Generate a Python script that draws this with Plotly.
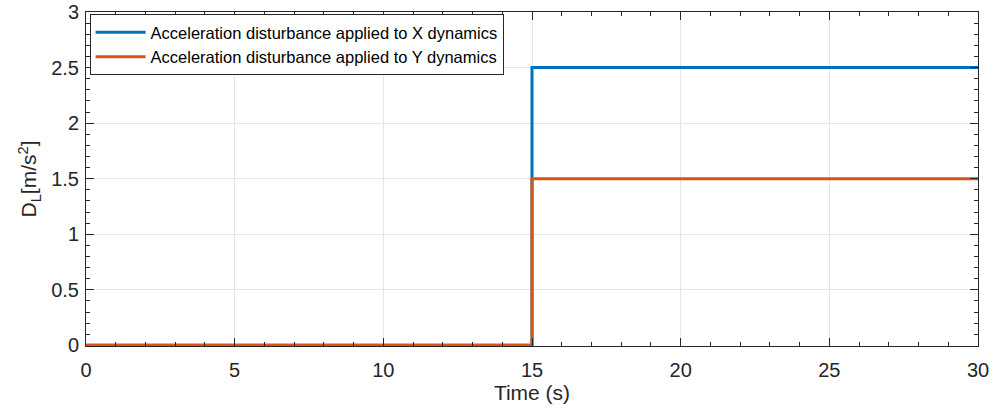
import plotly.graph_objects as go

time_s = [0, 15, 15, 30]
dist_x = [0, 0, 2.5, 2.5]
dist_y = [0, 0, 1.5, 1.5]
names = ["Acceleration disturbance applied to X dynamics",
         "Acceleration disturbance applied to Y dynamics"]
colors = ["#0072BD", "#D95319"]

fig = go.Figure()
for vals, nm, c in zip([dist_x, dist_y], names, colors):
    fig.add_trace(go.Scatter(x=time_s, y=vals, mode="lines", name=nm,
                             line=dict(color=c, width=3)))

axis_common = dict(
    showline=True, linecolor="#262626", linewidth=1, mirror="allticks",
    ticks="inside", ticklen=8, tickcolor="#262626", tickwidth=1,
    showgrid=True, gridcolor="#e6e6e6", gridwidth=1, zeroline=False,
    automargin=False,
    tickfont=dict(family="Liberation Sans, Arial", size=20, color="#262626"),
)

fig.update_layout(
    width=993, height=410,
    margin=dict(l=86, r=15, t=12, b=64),
    paper_bgcolor="white", plot_bgcolor="white",
    font=dict(family="Liberation Sans, Arial", color="#262626"),
    xaxis=dict(range=[0, 30], dtick=5, tick0=0, ticklabelstandoff=6,
               minor=dict(ticks="inside", dtick=1, ticklen=4, tickcolor="#262626", showgrid=False),
               title=dict(text="Time (s)", font=dict(size=21), standoff=0),
               **axis_common),
    yaxis=dict(range=[-0.006, 3], dtick=0.5, tick0=0, ticklabelstandoff=2,
               minor=dict(ticks="inside", dtick=0.1, ticklen=4, tickcolor="#262626", showgrid=False),
               title=dict(text="D<sub>L</sub>[m/s<sup>2</sup>]", font=dict(size=21), standoff=8),
               **axis_common),
    legend=dict(x=0.004, y=0.994, xanchor="left", yanchor="top",
                bgcolor="white", bordercolor="#262626", borderwidth=1,
                itemwidth=50,
                font=dict(size=16.5, color="#000000"), tracegroupgap=0),
    showlegend=True,
)

fig.write_html("out.html", config={"displayModeBar": False},
               post_script="document.body.style.margin='0';document.body.style.overflow='hidden';")
